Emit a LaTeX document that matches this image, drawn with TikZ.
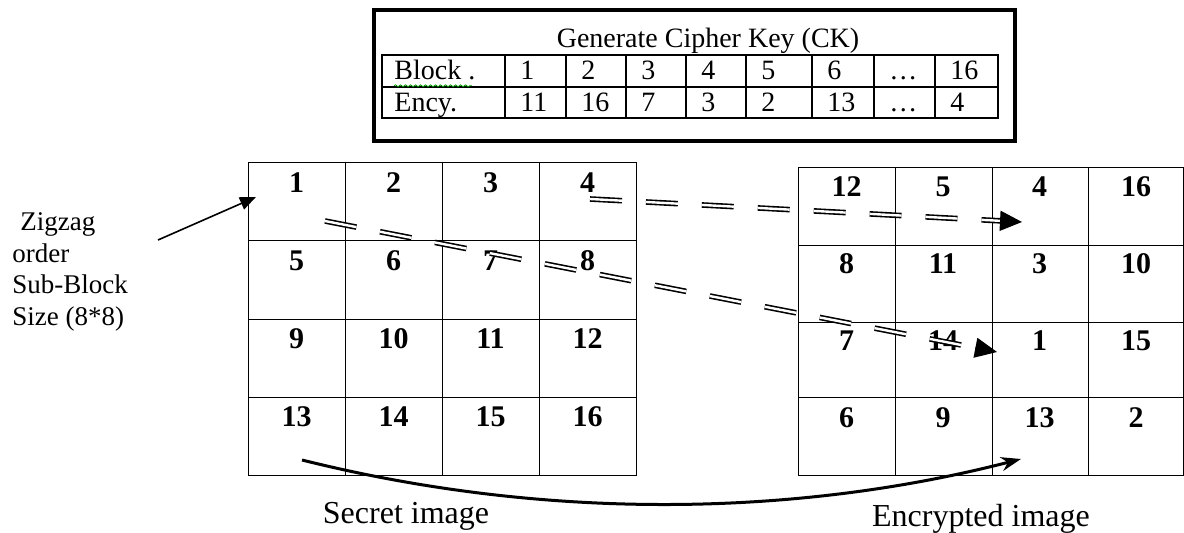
\documentclass[tikz,border=0pt]{standalone}
\usepackage{fontspec}
\setmainfont{Liberation Serif}
\usetikzlibrary{arrows.meta,calc,decorations.pathmorphing}
\tikzset{
  cellnum/.style={font=\fontsize{15}{15}\selectfont\bfseries, inner sep=0pt, anchor=base},
  keytext/.style={font=\fontsize{14}{14}\selectfont, inner sep=0pt, anchor=base west},
  captext/.style={font=\fontsize{16}{16}\selectfont, inner sep=0pt, anchor=base},
  sidetext/.style={font=\fontsize{13.5}{15.9}\selectfont, inner sep=0pt, align=left, anchor=north west},
  dblline/.style={double, line width=0.8pt, double distance=1.2pt, dash pattern=on 16pt off 12pt},
  tiphead/.style={-{Triangle[length=11pt,width=10pt]}, line width=0.8pt},
}
\begin{document}
\begin{tikzpicture}[x=0.5pt,y=-0.5pt]
\useasboundingbox (0,0) rectangle (1184,533);

% cipher key table
\draw[line width=2.3pt] (374,10) rectangle (1015,141);
\node[captext, font=\fontsize{14}{14}\selectfont] (title) at (708,48) {Generate Cipher Key (CK)};
\draw[line width=0.7pt] (382,55) rectangle (998,118);
\draw[line width=0.7pt] (382,87) -- (998,87);
\foreach \x in {505,566,626,686,746,812,874,935}
  \draw[line width=0.7pt] (\x,55) -- (\x,118);
\node[keytext] (blocklbl) at (394,80) {Block .};
\node[keytext] (encylbl) at (394,112) {Ency.};
\draw[green!60!black, line width=0.4pt, decorate, decoration={snake, amplitude=0.5pt, segment length=2.5pt}]
  (blocklbl.south west) ++(0,5) -- ++(78,0);
\foreach \c/\a/\b [count=\i] in {505/1/11, 566/2/16, 626/3/7, 686/4/3, 746/5/2, 812/6/13, 874/…/…, 935/16/4}{
  \node[keytext] (ckb\i) at (\c+15,80) {\a};
  \node[keytext] (cke\i) at (\c+15,112) {\b};
}

% secret image
\draw[line width=0.5pt] (248,163) rectangle (636,476);
\foreach \x in {345,442,539} \draw[line width=0.5pt] (\x,163) -- (\x,476);
\foreach \y in {241,320,398} \draw[line width=0.5pt] (248,\y) -- (636,\y);
\foreach \n [count=\i from 0] in {1,...,16}{
  \pgfmathtruncatemacro{\col}{mod(\i,4)}
  \pgfmathtruncatemacro{\row}{\i/4}
  \node[cellnum] (sec\n) at (296.5+97*\col,193+78*\row) {\n};
}

% encrypted image
\draw[line width=0.5pt] (798,168) rectangle (1183,476);
\foreach \x in {895,992,1088} \draw[line width=0.5pt] (\x,168) -- (\x,476);
\foreach \y in {246,323,398} \draw[line width=0.5pt] (798,\y) -- (1183,\y);
\foreach \n [count=\i from 0] in {12,5,4,16,8,11,3,10,7,14,1,15,6,9,13,2}{
  \pgfmathtruncatemacro{\col}{mod(\i,4)}
  \pgfmathtruncatemacro{\row}{\i/4}
  \node[cellnum] (cip\i) at (846.5+96.5*\col,197+77*\row) {\n};
}

% zigzag label
\node[sidetext] (zigzag) at (12,212) {\hspace{4pt}Zigzag\\order\\Sub-Block\\Size (8*8)};
\coordinate (zzstart) at (158,240);
\coordinate (zzend) at (256,197);
\draw[line width=0.8pt, -{Triangle[length=8pt,width=6.5pt]}] (zzstart) -- (zzend);

% block moves
\coordinate (fromfour) at (590,199);
\coordinate (tofour) at (1022,222);
\draw[dblline] (fromfour) -- ($(tofour)!9pt!(fromfour)$);
\draw[tiphead] ($(tofour)!11pt!(fromfour)$) -- (tofour);

\coordinate (fromone) at (325,221);
\coordinate (toone) at (997,352);
\draw[dblline] (fromone) -- ($(toone)!9pt!(fromone)$);
\draw[tiphead] ($(toone)!11pt!(fromone)$) -- (toone);

\coordinate (secbottom) at (302,460);
\coordinate (encbottom) at (1021,459);
\draw[line width=1.5pt, -{Stealth[length=10pt,width=7pt]}]
  (secbottom) .. controls (550,522) and (800,516) .. (encbottom);

% captions
\node[captext] (seccap) at (406,524) {Secret image};
\node[captext] (enccap) at (981,527) {Encrypted image};
\end{tikzpicture}
\end{document}
